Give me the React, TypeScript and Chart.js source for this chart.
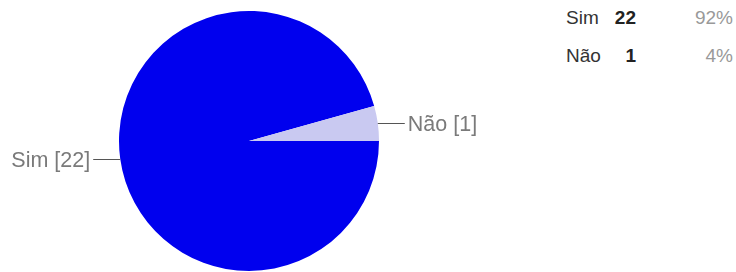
import React, { useEffect, useRef } from "react";
import { Chart, registerables } from "chart.js";

Chart.register(...registerables);

const categories = ["Sim", "Não"];
const counts = [22, 1];
const percents = ["92%", "4%"];
const colors = ["#0000ee", "#c9c9f1"];

const FONT = "Arial, 'Liberation Sans', sans-serif";

const leaderPlugin = {
  id: "leaderLabels",
  afterDraw(chart: any) {
    const ctx = chart.ctx;
    const meta = chart.getDatasetMeta(0);
    ctx.save();
    ctx.font = `21.5px ${FONT}`;
    ctx.textBaseline = "middle";
    meta.data.forEach((arc: any, i: number) => {
      const { x, y, startAngle, endAngle, outerRadius } = arc.getProps(
        ["x", "y", "startAngle", "endAngle", "outerRadius"],
        true
      );
      const mid = (startAngle + endAngle) / 2;
      const ex = x + Math.cos(mid) * outerRadius;
      const ey = y + Math.sin(mid) * outerRadius;
      const right = Math.cos(mid) >= 0;
      const lx = ex + (right ? 27 : -27);
      ctx.strokeStyle = "#555";
      ctx.lineWidth = 1;
      ctx.beginPath();
      const py = Math.round(ey) + 0.5;
      ctx.moveTo(ex, py);
      ctx.lineTo(lx, py);
      ctx.stroke();
      ctx.fillStyle = "#7a7a7a";
      ctx.textAlign = right ? "left" : "right";
      ctx.fillText(
        `${categories[i]} [${counts[i]}]`,
        lx + (right ? 3 : -3),
        py + 2
      );
    });
    ctx.restore();
  },
};

export default function App() {
  const ref = useRef<HTMLCanvasElement>(null);
  useEffect(() => {
    if (!ref.current) return;
    const chart = new Chart(ref.current, {
      type: "pie",
      data: {
        labels: categories,
        datasets: [
          {
            data: counts,
            backgroundColor: colors,
            borderColor: "#ffffff",
            borderWidth: 0,
          },
        ],
      },
      options: {
        animation: false,
        responsive: false,
        rotation: 90,
        layout: { padding: { top: 11, bottom: 1, left: 0, right: 0 } },
        plugins: { legend: { display: false }, tooltip: { enabled: false } },
      },
      plugins: [leaderPlugin],
    });
    return () => chart.destroy();
  }, []);

  const rowTops = [6, 44];
  return (
    <div
      style={{
        position: "fixed",
        left: 0,
        top: 0,
        width: 736,
        height: 272,
        background: "#fff",
        fontFamily: FONT,
        overflow: "hidden",
      }}
    >
      <canvas
        ref={ref}
        width={498}
        height={272}
        style={{ position: "absolute", left: 0, top: 0, width: 498, height: 272 }}
      />
      {categories.map((c, i) => (
        <React.Fragment key={c}>
          <div
            style={{
              position: "absolute",
              left: 566,
              top: rowTops[i],
              fontSize: 19,
              lineHeight: "24px",
              color: "#333",
            }}
          >
            {c}
          </div>
          <div
            style={{
              position: "absolute",
              right: 736 - 636,
              top: rowTops[i],
              fontSize: 19,
              lineHeight: "24px",
              fontWeight: "bold",
              color: "#222",
            }}
          >
            {counts[i]}
          </div>
          <div
            style={{
              position: "absolute",
              right: 736 - 733,
              top: rowTops[i],
              fontSize: 19,
              lineHeight: "24px",
              color: "#999",
            }}
          >
            {percents[i]}
          </div>
        </React.Fragment>
      ))}
    </div>
  );
}
